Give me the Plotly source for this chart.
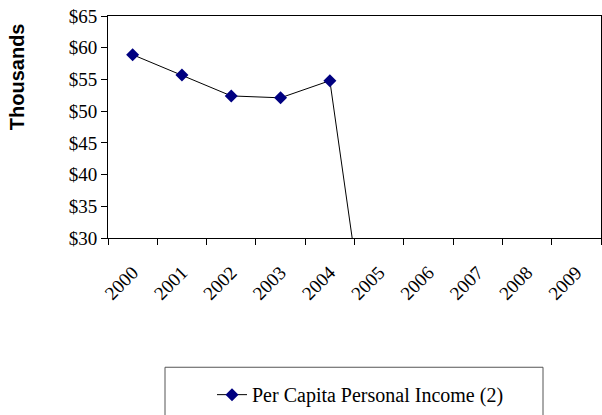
import plotly.graph_objects as go

# Per capita personal income, in thousands of dollars
years = ["2000", "2001", "2002", "2003", "2004", "2005", "2006", "2007", "2008", "2009"]
income = [58.9, 55.7, 52.4, 52.1, 54.8, 0, None, None, None, None]
y_ticks = [30, 35, 40, 45, 50, 55, 60, 65]
series_name = "Per Capita Personal Income (2)"

serif = "Liberation Serif"
W, H = 602, 415
L, R, T, B = 108, 1, 16, 174
plot_w = W - L - R
plot_h = H - T - B

fig = go.Figure()
fig.add_trace(go.Scatter(
    x=years, y=income, name=series_name, mode="lines+markers",
    line=dict(color="black", width=1),
    marker=dict(symbol="diamond", size=10, color="#000080"),
    connectgaps=False,
))

# Legend frame, centred under the plot area
fig.add_shape(type="rect", xref="paper", yref="paper",
              x0=(165 - L) / plot_w, x1=(543 - L) / plot_w,
              y0=-(H + 20 - T - plot_h) / plot_h, y1=-(372 - T - plot_h) / plot_h,
              line=dict(color="#555555", width=1), fillcolor="rgba(0,0,0,0)", layer="below")

# Rotated y-axis caption
fig.add_annotation(text="<b>Thousands</b>", textangle=-90, showarrow=False,
                   xref="paper", yref="paper",
                   x=(17 - L) / plot_w, y=(T + plot_h - 78) / plot_h,
                   xanchor="center", yanchor="middle",
                   font=dict(family="Liberation Sans", size=20, color="black"))

fig.update_layout(
    width=W, height=H,
    margin=dict(l=L, r=R, t=T, b=B, pad=0),
    paper_bgcolor="white", plot_bgcolor="white",
    showlegend=True,
    legend=dict(orientation="h", x=(212 - L) / plot_w, xanchor="left",
                y=-(380 - T - plot_h) / plot_h, yanchor="top",
                font=dict(family=serif, size=20, color="black"),
                bgcolor="rgba(0,0,0,0)", borderwidth=0),
    font=dict(family=serif, color="black"),
)

fig.update_xaxes(
    type="category", categoryorder="array", categoryarray=years,
    range=[-0.5, len(years) - 0.5],
    tickson="boundaries", ticks="outside", ticklen=6, tickcolor="black",
    tickangle=-45, ticklabelstandoff=15,
    tickfont=dict(family=serif, size=19, color="black"),
    showline=True, linecolor="black", linewidth=1, mirror=True,
    showgrid=False, zeroline=False,
)
fig.update_yaxes(
    range=[y_ticks[0], y_ticks[-1]], tickvals=y_ticks,
    ticktext=[f"${v}" for v in y_ticks],
    ticks="outside", ticklen=6, tickcolor="black",
    tickfont=dict(family=serif, size=19, color="black"),
    showline=True, linecolor="black", linewidth=1, mirror=True,
    showgrid=False, zeroline=False,
)

fig.write_html("out.html")
